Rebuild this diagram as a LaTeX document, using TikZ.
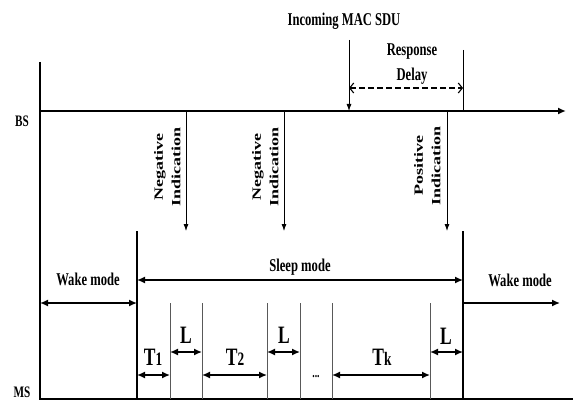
\documentclass[tikz,border=0pt]{standalone}
\usepackage{fontspec}
\setmainfont{Liberation Serif}
\usetikzlibrary{arrows.meta,calc}

% narrow bold labels
\newcommand{\nlab}[1]{\scalebox{0.7}[1]{#1}}
\newcommand{\vlab}[2]{\scalebox{1}[0.7]{\begin{tabular}{@{}c@{}}#1\\#2\end{tabular}}}

\begin{document}
\begin{tikzpicture}[x=1pt,y=-1pt, >={Latex[length=8pt,width=7pt]}]
    \tikzstyle{every node}=[inner sep=0pt, font=\bfseries\fontsize{18}{25}\selectfont]
    \tikzstyle{big}=[font=\bfseries\fontsize{25}{25}\selectfont]
    \tikzstyle{span}=[<->, line width=1.4]
    \tikzstyle{tick}=[line width=0.6, gray!70!black]
    \useasboundingbox (0,0) rectangle (573,401);

      % axes
      \coordinate (Top) at (40,62);
      \coordinate (O) at (40,399);
      \coordinate (MSend) at (573,399);
      \coordinate (BS0) at (40,111);
      \coordinate (BSend) at (566,111);
      \draw[line width=2] (Top)--(O)--(MSend);
      \draw[->, line width=1.6] (BS0)--(BSend);
      \node (BS) at (22,121) {\nlab{\fontsize{16}{16}\selectfont BS}};
      \node (MS) at (22,392) {\nlab{\fontsize{16}{16}\selectfont MS}};

      % incoming SDU and response delay
      \node (SDU) at (344,21) {\nlab{Incoming MAC SDU}};
      \coordinate (SDUtop) at (349,40);
      \coordinate (SDUbot) at (349,111);
      \draw[-{Latex[length=7pt,width=5pt]}, line width=0.8] (SDUtop)--(SDUbot);
      \coordinate (Rtop) at (463,50);
      \coordinate (Rbot) at (463,111);
      \draw[line width=0.8] (Rtop)--(Rbot);
      \coordinate (Ra) at (349,88);
      \coordinate (Rb) at (463,88);
      \draw[{Straight Barb[length=4pt,width=10pt]}-{Straight Barb[length=4pt,width=10pt]},
            dash pattern=on 6pt off 3pt, line width=1.1] (Ra)--(Rb);
      \node (Resp) at (412,52) {\nlab{Response}};
      \node (Del) at (412,76) {\nlab{Delay}};

      % indications
      \node[rotate=90] (Neg1) at (168,167) {\vlab{Negative}{Indication}};
      \node[rotate=90] (Neg2) at (266,167) {\vlab{Negative}{Indication}};
      \node[rotate=90] (Pos) at (428,166) {\vlab{Positive}{Indication}};
      \foreach \x/\n in {186/a, 284/b, 447/c}{
        \coordinate (I\n) at (\x,111);
        \coordinate (J\n) at (\x,231);
        \draw[-{Latex[length=7pt,width=5pt]}, line width=0.8] (I\n)--(J\n);
      }

      % mode boundaries
      \coordinate (S1) at (137,231);
      \coordinate (S1b) at (137,399);
      \coordinate (S2) at (463,231);
      \coordinate (S2b) at (463,399);
      \draw[line width=1.3] (S1)--(S1b);
      \draw[line width=2] (S2)--(S2b);

      % modes
      \coordinate (W1) at (40,303);
      \coordinate (W2) at (137,303);
      \draw[span] (W1)--(W2);
      \node (Wake1) at (88,279) {\nlab{Wake mode}};
      \coordinate (SL1) at (137,280);
      \coordinate (SL2) at (463,280);
      \draw[span] (SL1)--(SL2);
      \node (Sleep) at (300,267) {\nlab{Sleep mode}};
      \coordinate (W3) at (463,303);
      \coordinate (W4) at (560,303);
      \draw[->, line width=1.4] (W3)--(W4);
      \node (Wake2) at (520,280) {\nlab{Wake mode}};

      % sleep windows and listening windows
      \foreach \x/\n in {170/a, 202/b, 267/c, 300/d, 332/e, 430/f}{
        \coordinate (K\n) at (\x,303);
        \coordinate (M\n) at (\x,399);
        \draw[tick] (K\n)--(M\n);
      }
      \draw[span] ($(S1b)+(0,-24)$) coordinate (t1a) -- ($(Ma)+(0,-24)$) coordinate (t1b);
      \draw[span] ($(Ma)+(0,-47)$) coordinate (l1a) -- ($(Mb)+(0,-47)$) coordinate (l1b);
      \draw[span] ($(Mb)+(0,-24)$) coordinate (t2a) -- ($(Mc)+(0,-24)$) coordinate (t2b);
      \draw[span] ($(Mc)+(0,-47)$) coordinate (l2a) -- ($(Md)+(0,-47)$) coordinate (l2b);
      \draw[span] ($(Me)+(0,-24)$) coordinate (tka) -- ($(Mf)+(0,-24)$) coordinate (tkb);
      \draw[span] ($(Mf)+(0,-47)$) coordinate (l3a) -- ($(S2b)+(0,-47)$) coordinate (l3b);

      \node[big] (T1) at (153,357) {\nlab{T{\fontsize{19}{19}\selectfont 1}}};
      \node[big] (L1) at (186,335) {\nlab{L}};
      \node[big] (T2) at (235,357) {\nlab{T{\fontsize{19}{19}\selectfont 2}}};
      \node[big] (L2) at (284,335) {\nlab{L}};
      \node (dots) at (316,377) {\nlab{\fontsize{14}{14}\selectfont ...}};
      \node[big] (Tk) at (382,357) {\nlab{T{\fontsize{19}{19}\selectfont k}}};
      \node[big] (L3) at (446,336) {\nlab{L}};

\end{tikzpicture}
\end{document}
